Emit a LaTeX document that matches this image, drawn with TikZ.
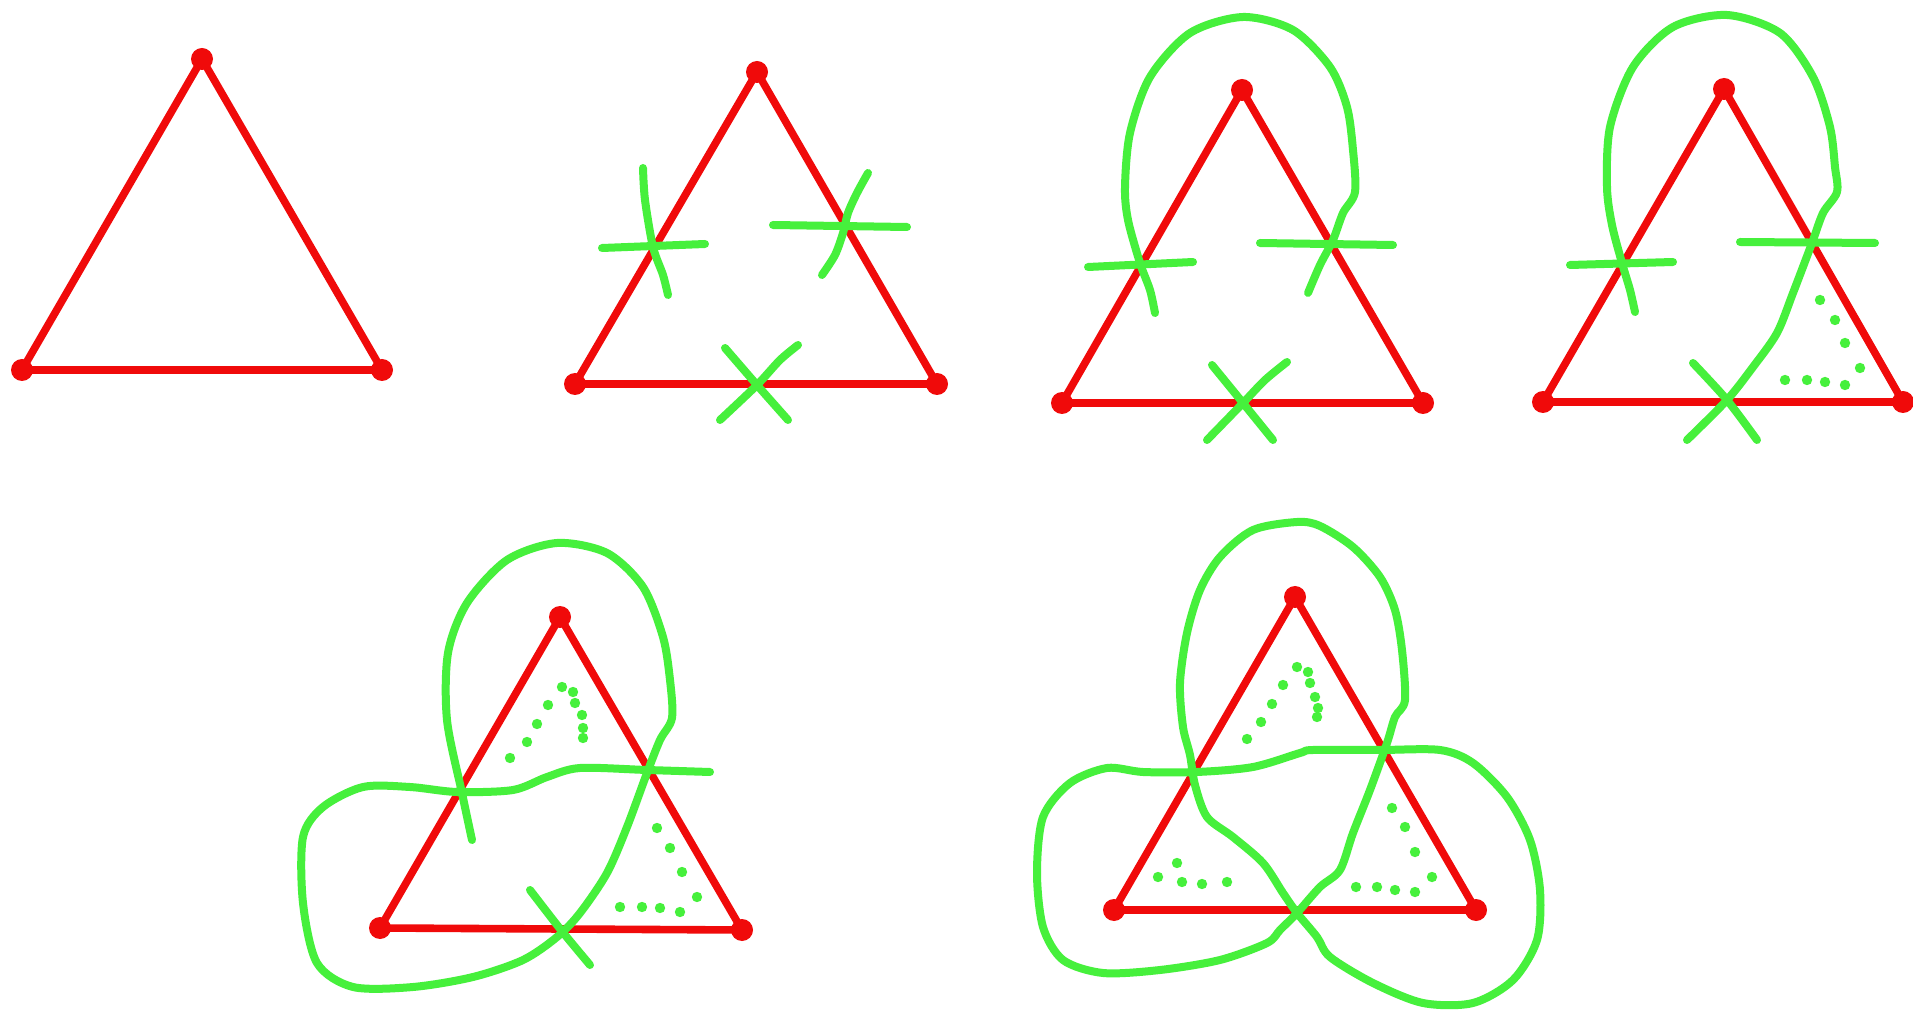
\documentclass[tikz,border=0pt]{standalone}
\definecolor{tred}{RGB}{240,10,10}
\definecolor{tgreen}{RGB}{70,240,60}
\tikzset{
  redline/.style={draw=tred, line width=3.8pt, line cap=round, line join=round},
  gline/.style={draw=tgreen, line width=4pt, line cap=round, line join=round},
  gdot/.style={fill=tgreen},
}
\newcommand{\mytri}[4]{%
  \coordinate (#1t) at (#2); \coordinate (#1l) at (#3); \coordinate (#1r) at (#4);
  \draw[redline] (#1t) -- (#1l) -- (#1r) -- cycle;
  \fill[tred] (#1t) circle (5.5pt);
  \fill[tred] (#1l) circle (5.5pt);
  \fill[tred] (#1r) circle (5.5pt);
}
\newcommand{\gdots}[1]{\foreach \p in {#1} \fill[tgreen] \p circle (2.6pt);}
\begin{document}
\begin{tikzpicture}[x=0.5pt,y=-0.5pt]
\useasboundingbox (0,0) rectangle (1913,1010);
\fill[white] (0,0) rectangle (1913,1010);
% triangles
\mytri{a}{202,59}{22,370}{382,370}
\mytri{b}{757,72}{575,384}{937,384}
\mytri{c}{1242,90}{1062,403}{1423,403}
\mytri{d}{1724,89}{1543,402}{1903,402}
\mytri{e}{560,617}{380,928}{742,930}
\mytri{f}{1295,597}{1114,910}{1476,910}
% triangle 2 marks
\draw[gline] (602,248) -- (705,244);
\draw[gline] plot[smooth] coordinates {(643,168) (645,200) (653,247) (663,275) (668,295)};
\draw[gline] (773,225) -- (907,227);
\draw[gline] plot[smooth] coordinates {(868,173) (857,193) (848,213) (843,233) (835,255) (822,275)};
\draw[gline] plot[smooth] coordinates {(725,348) (757,385) (788,420)};
\draw[gline] plot[smooth] coordinates {(798,345) (780,360) (757,385) (720,420)};
% triangle 3 marks
\draw[gline] (1088,267) -- (1193,262);
\draw[gline] (1260,243) -- (1393,245);
\draw[gline] plot[smooth] coordinates {(1155,313) (1150,290) (1140,263) (1128,220) (1125,187) (1130,133) (1150,77) (1190,33) (1243,17) (1293,30) (1330,67) (1347,107) (1353,150) (1355,192) (1343,213) (1333,240) (1320,265) (1308,293)};
\draw[gline] plot[smooth] coordinates {(1212,365) (1243,403) (1273,440)};
\draw[gline] plot[smooth] coordinates {(1287,362) (1265,380) (1243,403) (1207,440)};
% triangle 4 marks
\draw[gline] (1570,265) -- (1673,262);
\draw[gline] (1740,242) -- (1875,243);
\draw[gline] plot[smooth] coordinates {(1635,312) (1630,290) (1622,263) (1612,225) (1607,187) (1610,127) (1633,67) (1673,27) (1727,15) (1780,33) (1813,77) (1830,127) (1835,167) (1837,192) (1823,213) (1812,243) (1793,293) (1777,333) (1753,367) (1727,400) (1687,440)};
\draw[gline] plot[smooth] coordinates {(1693,363) (1727,400) (1757,440)};
\gdots{(1820,300),(1835,320),(1845,343),(1860,368),(1845,385),(1825,382),(1807,380),(1785,380)}
% triangle 5 marks
\draw[gline] plot[smooth] coordinates {(472,840) (462,793) (447,720) (448,653) (467,603) (507,560) (557,543) (607,553) (643,587) (663,637) (670,680) (672,718) (660,740) (647,773) (627,827) (607,873) (580,913) (557,937) (523,960) (473,977) (413,987) (353,987) (317,963) (303,903) (303,837) (323,807) (363,787) (410,787) (457,792) (513,790) (547,777) (580,768) (647,770) (710,772)};
\draw[gline] plot[smooth] coordinates {(530,890) (561,930) (590,965)};
\gdots{(510,758),(527,742),(537,724),(548,705),(562,687),(573,692),(575,703),(582,715),(583,728),(583,738)}
\gdots{(657,828),(670,848),(682,872),(697,897),(680,912),(660,908),(642,907),(620,907)}
% triangle 6 marks
\draw[gline] plot[smooth cycle] coordinates {(1297,913) (1283,893) (1263,863) (1233,837) (1207,817) (1195,785) (1190,755) (1183,727) (1180,683) (1187,633) (1200,590) (1220,557) (1253,530) (1297,522) (1320,526) (1353,547) (1380,577) (1395,610) (1402,650) (1405,700) (1395,717) (1387,743) (1370,790) (1353,833) (1340,870) (1320,887) (1297,913) (1280,930) (1267,943) (1220,960) (1160,970) (1103,973) (1063,960) (1043,927) (1037,873) (1043,817) (1070,783) (1107,768) (1143,772) (1197,772) (1253,767) (1300,753) (1313,750) (1380,750) (1440,750) (1473,763) (1507,797) (1530,840) (1540,890) (1537,940) (1513,980) (1473,1003) (1423,1003) (1373,983) (1330,957) (1317,937)};
\gdots{(1247,739),(1261,722),(1272,704),(1283,685),(1297,667),(1308,672),(1310,683),(1315,697),(1318,708),(1317,717)}
\gdots{(1177,863),(1158,877),(1182,882),(1202,884),(1227,882)}
\gdots{(1392,808),(1405,827),(1415,852),(1432,877),(1415,892),(1395,890),(1377,887),(1356,887)}
\end{tikzpicture}
\end{document}
